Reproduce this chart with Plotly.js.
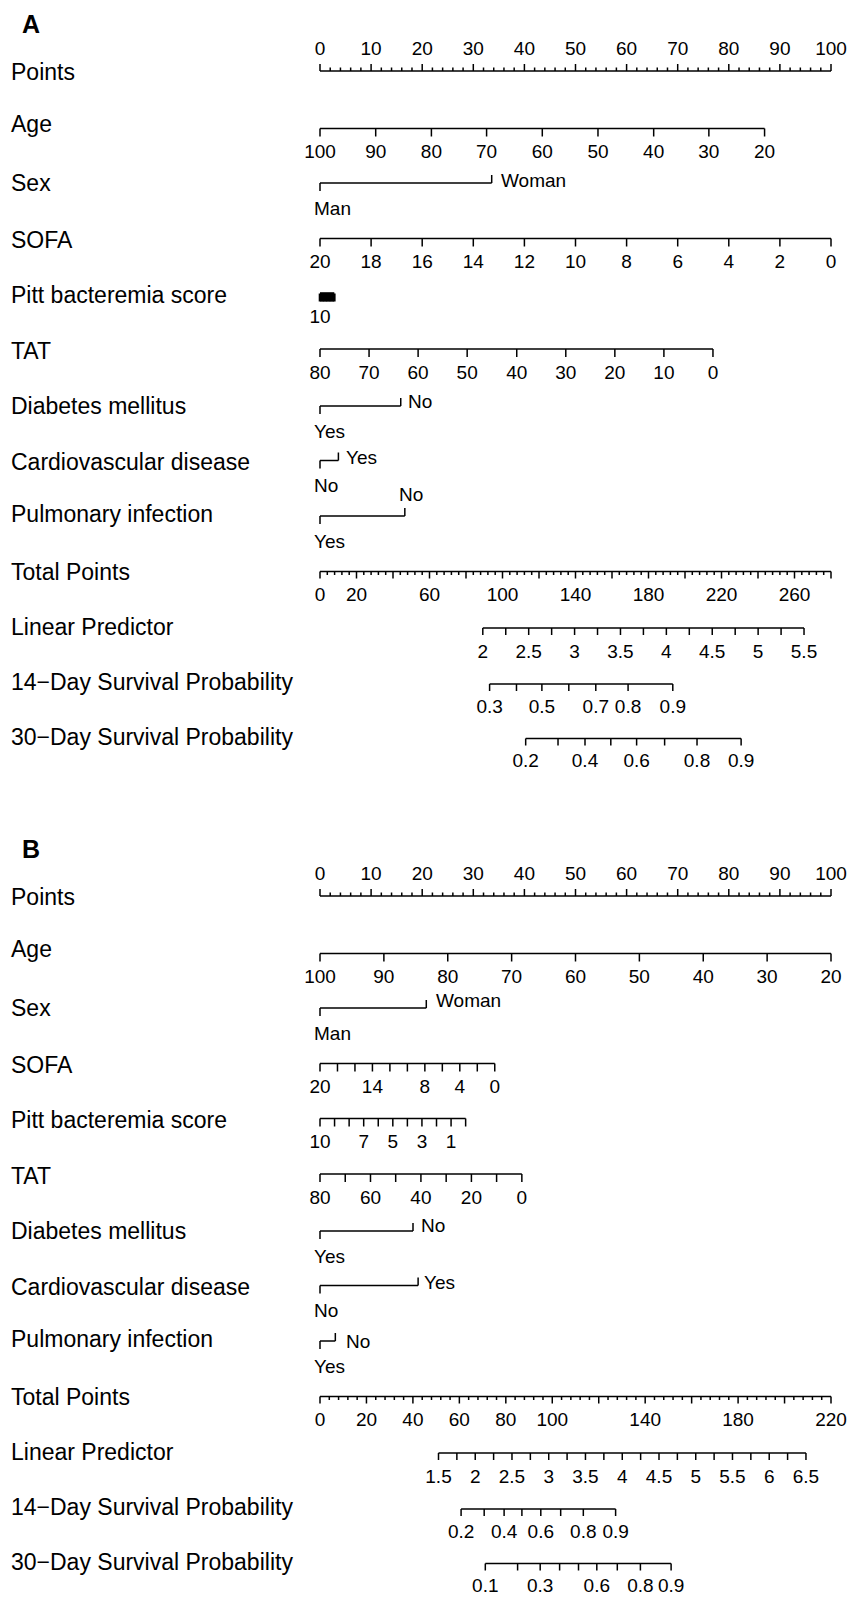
<!DOCTYPE html>
<html><head><meta charset="utf-8">
<script src="https://cdn.plot.ly/plotly-3.0.1.min.js"></script>
<style>html,body{margin:0;padding:0;background:#fff}</style>
</head><body><div id="chart" style="width:849px;height:1603px"></div>
<script>
// ---------------- data ----------------
const rowNames = ["Points","Age","Sex","SOFA","Pitt bacteremia score","TAT","Diabetes mellitus",
  "Cardiovascular disease","Pulmonary infection","Total Points","Linear Predictor",
  "14\u2212Day Survival Probability","30\u2212Day Survival Probability"];
const pointsTickLabels = [0,10,20,30,40,50,60,70,80,90,100];

// Panel A (positions = value on the 0-100 Points scale)
const A_ageVals = [100,90,80,70,60,50,40,30,20];
const A_agePts  = [0,10.9,21.8,32.6,43.5,54.4,65.3,76.1,87.0];
const A_sexLevels = ["Man","Woman"];
const A_sexPts = [0,33.6];
const A_sofaVals = [20,18,16,14,12,10,8,6,4,2,0];
const A_sofaPts  = [0,10,20,30,40,50,60,70,80,90,100];
const A_sofaLabels = [20,18,16,14,12,10,8,6,4,2,0];
const A_pittVals = [10,9,8,7,6,5,4,3,2,1,0];
const A_pittPts  = [0,0.28,0.56,0.84,1.12,1.4,1.68,1.96,2.24,2.52,2.8];
const A_pittLabels = [10];
const A_tatVals = [80,70,60,50,40,30,20,10,0];
const A_tatPts  = [0,9.6,19.2,28.8,38.5,48.1,57.7,67.3,76.9];
const A_tatLabels = [80,70,60,50,40,30,20,10,0];
const A_dmLevels = ["Yes","No"];   const A_dmPts = [0,15.8];
const A_cvdLevels = ["No","Yes"];  const A_cvdPts = [0,3.6];
const A_pulmLevels = ["Yes","No"]; const A_pulmPts = [0,16.6];
const A_totalMax = 280;
const A_totalLabels = [0,20,60,100,140,180,220,260];
const A_lpVals = [2,2.5,3,3.5,4,4.5,5,5.5];
const A_lpPts  = [31.86,40.84,49.82,58.80,67.78,76.76,85.74,94.72];
const A_s14Vals = [0.3,0.4,0.5,0.6,0.7,0.8,0.9];
const A_s14Pts  = [33.19,38.45,43.42,48.69,53.97,60.29,69.04];
const A_s14Labels = [0.3,0.5,0.7,0.8,0.9];
const A_s30Vals = [0.2,0.3,0.4,0.5,0.6,0.7,0.8,0.9];
const A_s30Pts  = [40.25,46.58,51.86,56.91,61.96,67.44,73.78,82.41];
const A_s30Labels = [0.2,0.4,0.6,0.8,0.9];

// Panel B
const B_ageVals = [100,90,80,70,60,50,40,30,20];
const B_agePts  = [0,12.5,25,37.5,50,62.5,75,87.5,100];
const B_sexLevels = ["Man","Woman"];
const B_sexPts = [0,20.8];
const B_sofaVals = [20,18,16,14,12,10,8,6,4,2,0];
const B_sofaPts  = [0,3.42,6.84,10.26,13.68,17.1,20.52,23.94,27.36,30.78,34.2];
const B_sofaLabels = [20,14,8,4,0];
const B_pittVals = [10,9,8,7,6,5,4,3,2,1,0];
const B_pittPts  = [0,2.85,5.7,8.55,11.4,14.25,17.1,19.95,22.8,25.65,28.5];
const B_pittLabels = [10,7,5,3,1];
const B_tatVals = [80,70,60,50,40,30,20,10,0];
const B_tatPts  = [0,4.94,9.88,14.81,19.75,24.69,29.63,34.56,39.5];
const B_tatLabels = [80,60,40,20,0];
const B_dmLevels = ["Yes","No"];   const B_dmPts = [0,18.2];
const B_cvdLevels = ["No","Yes"];  const B_cvdPts = [0,19.2];
const B_pulmLevels = ["Yes","No"]; const B_pulmPts = [0,3.0];
const B_totalMax = 220;
const B_totalLabels = [0,20,40,60,80,100,140,180,220];
const B_lpVals = [1.5,2,2.5,3,3.5,4,4.5,5,5.5,6,6.5];
const B_lpPts  = [23.19,30.38,37.57,44.76,51.95,59.15,66.34,73.53,80.72,87.91,95.10];
const B_s14Vals = [0.2,0.3,0.4,0.5,0.6,0.7,0.8,0.9];
const B_s14Pts  = [27.61,32.13,36.03,39.51,43.21,47.10,51.53,57.85];
const B_s14Labels = [0.2,0.4,0.6,0.8,0.9];
const B_s30Vals = [0.1,0.2,0.3,0.4,0.5,0.6,0.7,0.8,0.9];
const B_s30Pts  = [32.35,38.67,43.09,46.89,50.59,54.17,58.18,62.70,68.71];
const B_s30Labels = [0.1,0.3,0.6,0.8,0.9];

// ---------------- layout (pixel rows) ----------------
const rowLineY  = [71,128.5,183,238.5,293.5,349,406,460.5,516,571.5,628,684,738.5];
const rowLabelY = [72,123.5,182.5,240,294.5,350.5,405.5,461.5,514,572,626.5,681.5,736.5];
const FONT = 'Liberation Sans, Arial, Helvetica, sans-serif';
const W = 849, H = 1603;
const X0 = -320/5.11, X1 = X0 + W/5.11;

const panels = [
 {letter:'A', oy:0,
  age:[A_ageVals,A_agePts,A_ageVals], sex:[A_sexLevels,A_sexPts],
  sofa:[A_sofaVals,A_sofaPts,A_sofaLabels], pitt:[A_pittVals,A_pittPts,A_pittLabels],
  tat:[A_tatVals,A_tatPts,A_tatLabels], dm:[A_dmLevels,A_dmPts], cvd:[A_cvdLevels,A_cvdPts],
  pulm:[A_pulmLevels,A_pulmPts], totalMax:A_totalMax, totalLabels:A_totalLabels,
  lp:[A_lpVals,A_lpPts], s14:[A_s14Vals,A_s14Pts,A_s14Labels], s30:[A_s30Vals,A_s30Pts,A_s30Labels],
  catOpt:{sex:{xs:7,dy:-3}, dm:{xs:5,dy:-5}, cvd:{xs:6,dy:-3}, pulm:{above:true}}},
 {letter:'B', oy:825,
  age:[B_ageVals,B_agePts,B_ageVals], sex:[B_sexLevels,B_sexPts],
  sofa:[B_sofaVals,B_sofaPts,B_sofaLabels], pitt:[B_pittVals,B_pittPts,B_pittLabels],
  tat:[B_tatVals,B_tatPts,B_tatLabels], dm:[B_dmLevels,B_dmPts], cvd:[B_cvdLevels,B_cvdPts],
  pulm:[B_pulmLevels,B_pulmPts], totalMax:B_totalMax, totalLabels:B_totalLabels,
  lp:[B_lpVals,B_lpPts], s14:[B_s14Vals,B_s14Pts,B_s14Labels], s30:[B_s30Vals,B_s30Pts,B_s30Labels],
  catOpt:{sex:{xs:8,dy:-8}, dm:{xs:6,dy:-6}, cvd:{xs:4,dy:-3}, pulm:{xs:9,dy:0}}}
];

const LX=[], LY=[], PX=[], PY=[], TX=[], TY=[], TT=[], annotations=[];
function seg(x0,y0,x1,y1,thick){const a=thick?PX:LX,b=thick?PY:LY;a.push(x0,x1,null);b.push(y0,y1,null);}
function lab(x,y,t){TX.push(x);TY.push(y);TT.push(String(t));}
function ann(x,y,t,xs,anchor,size){
  annotations.push({x:x,y:y,xref:'x',yref:'y',text:t,showarrow:false,
    xanchor:anchor,yanchor:'middle',xshift:xs,font:{family:FONT,size:size,color:'#000'}});
}

panels.forEach(P=>{
  const y = r => rowLineY[r]+P.oy;
  annotations.push({x:31/W,y:24+P.oy,xref:'paper',yref:'y',text:'<b>'+P.letter+'</b>',showarrow:false,
    xanchor:'center',yanchor:'middle',font:{family:FONT,size:25,color:'#000'}});
  rowNames.forEach((n,i)=>annotations.push({x:9/W,y:rowLabelY[i]+P.oy,xref:'paper',yref:'y',text:n,
    showarrow:false,xanchor:'left',yanchor:'middle',font:{family:FONT,size:23,color:'#000'}}));
  // Points
  seg(0,y(0),100,y(0));
  for(let v=0; v<=100; v+=2) seg(v,y(0),v,y(0)-(v%10===0?7:3.5));
  pointsTickLabels.forEach(v=>lab(v,y(0)-21,v));
  function cont(d,r,thick){
    const [vals,pts,labels]=d;
    seg(pts[0],y(r),pts[pts.length-1],y(r),thick);
    pts.forEach(p=>seg(p,y(r),p,y(r)+8,thick));
    labels.forEach(v=>{const i=vals.indexOf(v); lab(pts[i],y(r)+25,v);});
  }
  function cat(d,r,o){
    const [lv,pts]=d;
    seg(pts[0],y(r),pts[1],y(r));
    seg(pts[0],y(r),pts[0],y(r)+8);
    seg(pts[1],y(r),pts[1],y(r)-8);
    ann(pts[0],y(r)+25,lv[0],-8,'left',19);
    if(o.above) ann(pts[1],y(r)-22,lv[1],-8,'left',19);
    else ann(pts[1],y(r)+o.dy,lv[1],o.xs,'left',19);
  }
  const pittThick = P.pitt[1][P.pitt[1].length-1] < 5;
  cont(P.age,1); cat(P.sex,2,P.catOpt.sex); cont(P.sofa,3); cont(P.pitt,4,pittThick); cont(P.tat,5);
  cat(P.dm,6,P.catOpt.dm); cat(P.cvd,7,P.catOpt.cvd); cat(P.pulm,8,P.catOpt.pulm);
  // total points
  seg(0,y(9),100,y(9));
  for(let t=0;t<=P.totalMax;t+=4){const x=t*100/P.totalMax; seg(x,y(9),x,y(9)+(t%20===0?7:3.5));}
  P.totalLabels.forEach(t=>lab(t*100/P.totalMax,y(9)+25,t));
  // linear predictor
  const [lv,lp]=P.lp;
  seg(lp[0],y(10),lp[lp.length-1],y(10));
  lp.forEach((p,i)=>{seg(p,y(10),p,y(10)+7); if(i<lp.length-1){const m=(p+lp[i+1])/2; seg(m,y(10),m,y(10)+7);} lab(p,y(10)+25,lv[i]);});
  // survival
  [[P.s14,11],[P.s30,12]].forEach(([d,r])=>{
    const [vals,pts,labels]=d;
    seg(pts[0],y(r),pts[pts.length-1],y(r));
    pts.forEach(p=>seg(p,y(r),p,y(r)+7));
    labels.forEach(v=>{const i=vals.indexOf(v); lab(pts[i],y(r)+24,v);});
  });
});

const traces = [
  {type:'scatter',mode:'lines',x:LX,y:LY,line:{color:'#000',width:1.5},hoverinfo:'skip',cliponaxis:false},
  {type:'scatter',mode:'lines',x:PX,y:PY,line:{color:'#000',width:2.6},hoverinfo:'skip',cliponaxis:false},
  {type:'scatter',mode:'text',x:TX,y:TY,text:TT,textposition:'middle center',
   textfont:{family:FONT,size:19,color:'#000'},hoverinfo:'skip',cliponaxis:false}
];
const layout = {
  width:W,height:H,margin:{l:0,r:0,t:0,b:0},showlegend:false,
  paper_bgcolor:'#fff',plot_bgcolor:'#fff',
  xaxis:{range:[X0,X1],visible:false,fixedrange:true},
  yaxis:{range:[H,0],visible:false,fixedrange:true},
  annotations:annotations
};
Plotly.newPlot('chart',traces,layout,{staticPlot:true,displayModeBar:false});
</script></body></html>
